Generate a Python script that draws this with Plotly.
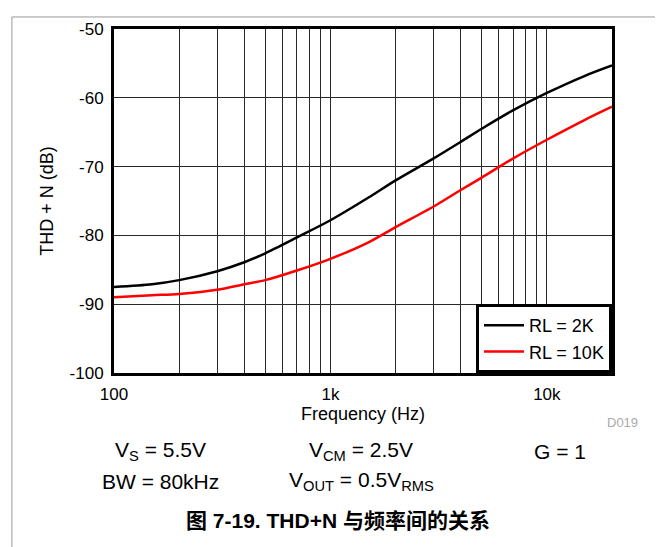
import plotly.graph_objects as go
import math

# ---- data ----
freq_hz = [100, 150, 200, 300, 400, 500, 700, 1000, 1500,
           2000, 3000, 4000, 5000, 7000, 10000, 15000, 20000]
thdn_rl2k = [-87.5, -87.1, -86.5, -85.2, -83.9, -82.6, -80.3, -77.8, -74.5,
             -72.0, -68.8, -66.4, -64.5, -61.8, -59.3, -56.8, -55.3]
thdn_rl10k = [-89.0, -88.7, -88.5, -87.9, -87.1, -86.5, -85.1, -83.4, -81.0,
              -78.8, -75.8, -73.4, -71.6, -68.8, -66.1, -63.2, -61.3]

series_names = ["RL = 2K", "RL = 10K"]
series_colors = ["#000000", "#ff0000"]

x_grid_vals = [100, 200, 300, 400, 500, 600, 700, 800, 900,
               1000, 2000, 3000, 4000, 5000, 6000, 7000, 8000, 9000,
               10000, 20000]
x_grid_text = ["100", "", "", "", "", "", "", "", "",
               "1k", "", "", "", "", "", "", "", "",
               "10k", ""]
y_ticks = [-100, -90, -80, -70, -60, -50]
y_tick_text = ["-100", "-90", "-80", "-70", "-60", "-50"]

FONT = "Liberation Sans, Arial, Noto Sans CJK SC, sans-serif"

fig = go.Figure()
for name, color, ys in zip(series_names, series_colors, [thdn_rl2k, thdn_rl10k]):
    fig.add_trace(go.Scatter(
        x=freq_hz, y=ys, mode="lines", name=name,
        line=dict(color=color, width=2.5, shape="spline", smoothing=0.8),
    ))

fig.update_layout(
    width=655, height=539,
    margin=dict(l=106, r=51, t=14, b=174),
    paper_bgcolor="white", plot_bgcolor="white",
    font=dict(family=FONT, size=17, color="black"),
    showlegend=True,
    legend=dict(
        x=1, xanchor="right", y=0, yanchor="bottom",
        bgcolor="white", bordercolor="black", borderwidth=3,
        font=dict(size=18, family=FONT),
        itemwidth=40, tracegroupgap=0,
    ),
)

fig.update_xaxes(
    type="log", range=[2, math.log10(20000)],
    tickmode="array", tickvals=x_grid_vals, ticktext=x_grid_text,
    showgrid=True, gridcolor="#2a2a2a", gridwidth=1,
    showline=True, linecolor="black", linewidth=3, mirror=True,
    ticks="outside", ticklen=4, tickcolor="rgba(0,0,0,0)",
    tickfont=dict(size=17),
    title=dict(text="Frequency (Hz)", font=dict(size=18), standoff=1),
    zeroline=False,
)
fig.update_yaxes(
    range=[-100, -50], tickmode="array", tickvals=y_ticks, ticktext=y_tick_text,
    showgrid=True, gridcolor="#2a2a2a", gridwidth=1,
    showline=True, linecolor="black", linewidth=3, mirror=True,
    ticks="outside", ticklen=4, tickcolor="rgba(0,0,0,0)",
    tickfont=dict(size=17),
    title=dict(text="THD + N (dB)", font=dict(size=18), standoff=12),
    zeroline=False,
)

# conditions / caption text
notes = [
    ("V<sub>S</sub> = 5.5V", 0.094, -0.227),
    ("V<sub>CM</sub> = 2.5V", 0.496, -0.227),
    ("G = 1", 0.896, -0.227),
    ("BW = 80kHz", 0.094, -0.315),
    ("V<sub>OUT</sub> = 0.5V<sub>RMS</sub>", 0.496, -0.315),
]
for txt, xp, yp in notes:
    fig.add_annotation(text=txt, x=xp, y=yp, xref="paper", yref="paper",
                       showarrow=False, xanchor="center", yanchor="middle",
                       font=dict(size=21, family=FONT))

fig.add_annotation(text="D019", x=1.022, y=-0.144, xref="paper", yref="paper",
                   showarrow=False, xanchor="center", yanchor="middle",
                   font=dict(size=13, color="#aaaaaa", family=FONT))

fig.add_annotation(text="<b>图 7-19. THD+N 与频率间的关系</b>", x=0.45, y=-0.43,
                   xref="paper", yref="paper", showarrow=False,
                   xanchor="center", yanchor="middle",
                   font=dict(size=21, family=FONT))

# thin outer frame of the figure image (left and top edges)
fig.add_shape(type="rect", xref="paper", yref="paper",
              x0=-0.205, x1=1.3, y0=-0.7, y1=1.035,
              line=dict(color="#999999", width=1), layer="below")

fig.write_html("out.html")
